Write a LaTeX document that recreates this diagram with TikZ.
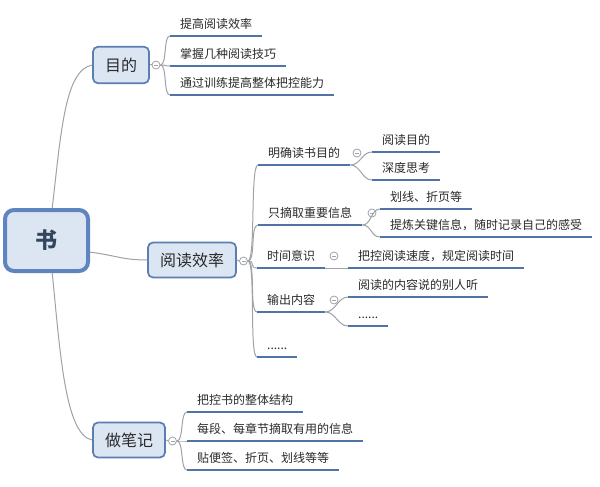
\documentclass[tikz,border=0pt]{standalone}
\usepackage{fontspec}
\newfontfamily\cjk{Noto Sans CJK SC}
\usetikzlibrary{calc}
\definecolor{boxfill}{HTML}{DCE6F3}
\definecolor{boxline}{HTML}{5A7DB2}
\definecolor{rootline}{HTML}{5F85BE}
\definecolor{rootdark}{HTML}{34465E}
\definecolor{uline}{HTML}{5073A8}
\definecolor{conn}{HTML}{9EA3A8}
\definecolor{txt}{HTML}{2A2A2A}
\begin{document}
\begin{tikzpicture}[x=1pt,y=-1pt,
  rootbox/.style={draw=rootline, line width=4pt, fill=boxfill, rounded corners=9pt, minimum width=83pt, minimum height=61pt, font=\cjk\bfseries\fontsize{22}{24}\selectfont, text=rootdark},
  topbox/.style={draw=boxline, line width=1.7pt, fill=boxfill, rounded corners=5pt, inner xsep=12pt, minimum height=35pt, font=\cjk\fontsize{16}{18}\selectfont, text=txt},
  leaf/.style={anchor=south west, inner xsep=10pt, inner ysep=0pt, text height=10pt, text depth=7.4pt, font=\cjk\fontsize{12}{14}\selectfont, text=txt},
  ul/.style={draw=uline, line width=2.8pt},
  link/.style={draw=conn, line width=1pt},
  brk/.style={to path={.. controls +(#1,0) and +(-#1,0) .. (\tikztotarget)}},
  brk/.default=7,
  tog/.style={circle, draw=conn, fill=white, line width=0.8pt, minimum size=8pt, inner sep=0pt,
    path picture={\draw[conn, line width=0.8pt] ([xshift=-2pt]path picture bounding box.center) -- ([xshift=2pt]path picture bounding box.center);}},
]
\useasboundingbox[fill=white] (0,0) rectangle (600,487);

% main boxes
\node[rootbox] (root) at (46.5,240.5) {书};
\node[topbox, minimum height=36.5pt] (g1) at (121,65) {目的};
\node[topbox] (g2) at (192,260) {阅读效率};
\node[topbox] (g3) at (129,440) {做笔记};

% toggles
\node[tog] (c1) at (156,65) {};
\node[tog] (c2) at (243.5,261) {};
\node[tog] (c3) at (172.5,441) {};

% leaves of 目的
\node[leaf] (a1) at (170,36) {提高阅读效率};
\node[leaf] (a2) at (170,66) {掌握几种阅读技巧};
\node[leaf] (a3) at (170,95) {通过训练提高整体把控能力};

% leaves of 阅读效率
\node[leaf] (m1) at (258,165) {明确读书目的};
\node[leaf] (m2) at (258,225) {只摘取重要信息};
\node[leaf] (m3) at (257,268) {时间意识};
\node[leaf] (m4) at (257,312) {输出内容};
\node[leaf] (m5) at (257,357) {......};

\node[tog] (t1) at (357,153) {};
\node[tog] (t2) at (372,213) {};
\node[tog] (t3) at (334,256) {};
\node[tog] (t4) at (334,300) {};

\node[leaf] (m11) at (372,152) {阅读目的};
\node[leaf] (m12) at (372,180) {深度思考};
\node[leaf] (m21) at (380,209) {划线、折页等};
\node[leaf] (m22) at (380,237) {提炼关键信息，随时记录自己的感受};
\node[leaf] (m31) at (348,268) {把控阅读速度，规定阅读时间};
\node[leaf] (m41) at (348,297) {阅读的内容说的别人听};
\node[leaf] (m42) at (348,326) {......};

% leaves of 做笔记
\node[leaf] (n1) at (187,412) {把控书的整体结构};
\node[leaf] (n2) at (187,441) {每段、每章节摘取有用的信息};
\node[leaf] (n3) at (187,470) {贴便签、折页、划线等等};

% connectors
\draw[link] (root.80) .. controls +(9,-78) and +(-27,5) .. (g1.west);
\draw[link] (root.-15) .. controls +(25,3) and +(-25,0) .. (g2.west);
\draw[link] (root.-80) .. controls +(8,80) and +(-27,-5) .. (g3.west);

\draw[link] (g1.east) -- (c1.west);
\draw[link] (g2.east) -- (c2.west);
\draw[link] (g3.east) -- (c3.west);

\foreach \n in {a1,a2,a3} \draw[link] (c1.east) to[brk] (\n.south west);
\foreach \n in {m1,m2,m3,m4,m5} \draw[link] (c2.east) to[brk=8] (\n.south west);
\foreach \n in {n1,n2,n3} \draw[link] (c3.east) to[brk] (\n.south west);

\foreach \n in {m11,m12} \draw[link] (m1.south east) to[brk=10] (\n.south west);
\foreach \n in {m21,m22} \draw[link] (m2.south east) to[brk=9] (\n.south west);
\draw[link] (m3.south east) -- (m31.south west);
\foreach \n in {m41,m42} \draw[link] (m4.south east) to[brk=10] (\n.south west);

% underlines
\foreach \n in {a1,a2,a3,m1,m2,m3,m4,m5,m11,m12,m21,m22,m31,m41,m42,n1,n2,n3}
  \draw[ul] (\n.south west) -- (\n.south east);
\end{tikzpicture}
\end{document}
